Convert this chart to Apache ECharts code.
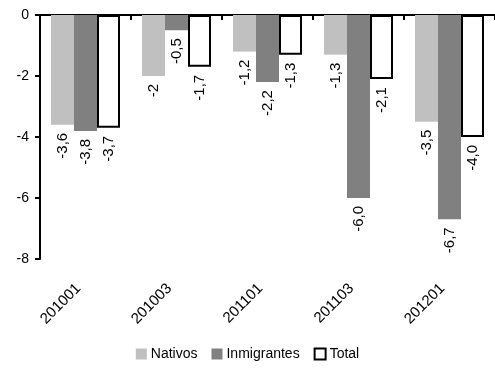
<!DOCTYPE html>
<html>
<head>
<meta charset="utf-8">
<script src="https://cdn.jsdelivr.net/npm/echarts@6/dist/echarts.min.js"></script>
<style>
html,body{margin:0;padding:0;background:#fff;}
#c{width:495px;height:369px;}
</style>
</head>
<body>
<div id="c"></div>
<script>
var categories = ['201001', '201003', '201101', '201103', '201201'];
var nativos = [-3.6, -2, -1.2, -1.3, -3.5];
var inmigrantes = [-3.8, -0.5, -2.2, -6.0, -6.7];
var total = [-3.7, -1.7, -1.3, -2.1, -4.0];
var nativosLabels = ['-3,6', '-2', '-1,2', '-1,3', '-3,5'];
var inmigrantesLabels = ['-3,8', '-0,5', '-2,2', '-6,0', '-6,7'];
var totalLabels = ['-3,7', '-1,7', '-1,3', '-2,1', '-4,0'];
var yTicks = [0, -2, -4, -6, -8];

var FONT = '"Liberation Sans", Arial, sans-serif';

function labelCfg(texts) {
  return {
    show: true,
    position: 'bottom',
    rotate: 90,
    align: 'right',
    verticalAlign: 'middle',
    distance: 8,
    color: '#000',
    fontSize: 15,
    fontFamily: FONT,
    formatter: function (p) { return texts[p.dataIndex]; }
  };
}

var chart = echarts.init(document.getElementById('c'), null, {renderer: 'canvas'});
chart.setOption({
  animation: false,
  backgroundColor: '#fff',
  textStyle: {fontFamily: FONT},
  grid: {left: 40, right: 0, top: 15, bottom: 110, containLabel: false},
  legend: {
    bottom: 3,
    left: 'center',
    itemWidth: 11,
    itemHeight: 11,
    itemGap: 14,
    icon: 'rect',
    textStyle: {fontSize: 14, color: '#000', fontFamily: FONT, padding: [0, 0, 0, -1]},
    data: ['Nativos', 'Inmigrantes', 'Total']
  },
  xAxis: [
    {
      type: 'category',
      data: categories,
      position: 'bottom',
      axisLine: {onZero: true, lineStyle: {color: '#000', width: 2}},
      axisTick: {show: true, length: 5, lineStyle: {color: '#000', width: 2}},
      axisLabel: {show: false},
      splitLine: {show: false}
    },
    {
      type: 'category',
      data: categories,
      position: 'bottom',
      axisLine: {show: false, onZero: false},
      axisTick: {show: false},
      axisLabel: {show: true, rotate: 45, margin: 20, padding: [0, 10, 0, 0], fontSize: 15, color: '#000', fontFamily: FONT, interval: 0},
      splitLine: {show: false}
    }
  ],
  yAxis: {
    type: 'value',
    min: -8,
    max: 0,
    interval: 2,
    axisLine: {show: true, lineStyle: {color: '#000', width: 2}},
    axisTick: {show: true, length: 5, lineStyle: {color: '#000', width: 2}},
    axisLabel: {fontSize: 14, color: '#000', fontFamily: FONT, margin: 11,
      formatter: function (v) { return yTicks.indexOf(v) >= 0 ? String(v) : ''; }},
    splitLine: {show: false}
  },
  series: [
    {
      name: 'Nativos', type: 'bar', xAxisIndex: 0, data: nativos,
      barWidth: 23, barGap: '0%',
      itemStyle: {color: '#C0C0C0'},
      label: labelCfg(nativosLabels)
    },
    {
      name: 'Inmigrantes', type: 'bar', xAxisIndex: 0, data: inmigrantes,
      barWidth: 23, barGap: '0%',
      itemStyle: {color: '#808080'},
      label: labelCfg(inmigrantesLabels)
    },
    {
      name: 'Total', type: 'bar', xAxisIndex: 0, data: total,
      barWidth: 23, barGap: '0%',
      itemStyle: {color: '#fff', borderColor: '#000', borderWidth: 2},
      label: labelCfg(totalLabels)
    }
  ]
});
</script>
</body>
</html>
